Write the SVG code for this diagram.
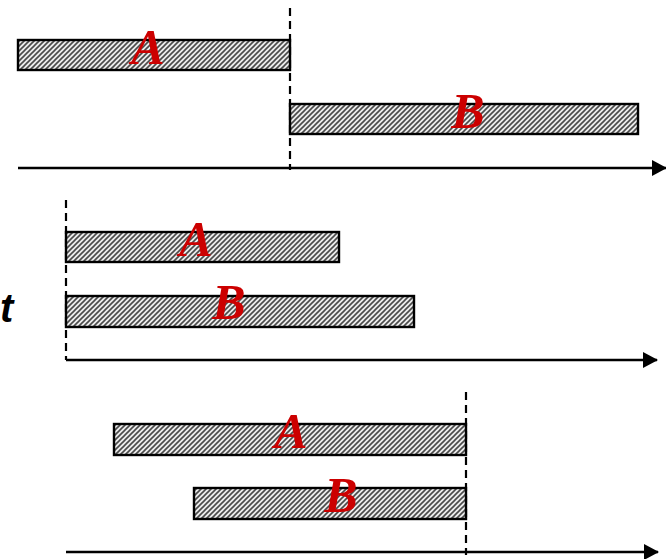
<svg xmlns="http://www.w3.org/2000/svg" width="666" height="559" viewBox="0 0 666 559">
<defs>
<pattern id="hatch" patternUnits="userSpaceOnUse" width="5" height="5">
<rect width="5" height="5" fill="#ececec"/>
<path d="M-1,6 L6,-1 M-1,1 L1,-1 M4,6 L6,4" stroke="#4a4a4a" stroke-width="1.6"/>
</pattern>
<marker id="arrow" markerWidth="15" markerHeight="16" refX="14" refY="8" orient="auto" markerUnits="userSpaceOnUse">
<path d="M0,0 L15,8 L0,16 Z" fill="#000"/>
</marker>
</defs>
<style>
.bar{fill:url(#hatch);stroke:#000;stroke-width:2.4}
.lbl{font-family:"Liberation Serif","Times New Roman",serif;font-weight:bold;font-style:italic;font-size:50px;fill:#cc0000;text-anchor:middle}
.axis{stroke:#000;stroke-width:2.5;fill:none}
.dash{stroke:#000;stroke-width:2.2;stroke-dasharray:8 5;fill:none}
</style>
<rect width="666" height="559" fill="#fff"/>
<g id="connectors">
<line class="axis" x1="18" y1="168" x2="666" y2="168" marker-end="url(#arrow)"/>
<line class="axis" x1="66" y1="360" x2="657" y2="360" marker-end="url(#arrow)"/>
<line class="axis" x1="66" y1="552" x2="658" y2="552" marker-end="url(#arrow)"/>
<line class="dash" x1="290" y1="8" x2="290" y2="170"/>
<line class="dash" x1="66" y1="200" x2="66" y2="360"/>
<line class="dash" x1="466" y1="392" x2="466" y2="555"/>
</g>
<g id="top-A"><rect class="bar" x="18" y="40" width="272" height="30"/><text class="lbl" x="148" y="64">A</text></g>
<g id="top-B"><rect class="bar" x="290" y="104" width="348" height="30"/><text class="lbl" x="468" y="128">B</text></g>
<g id="mid-A"><rect class="bar" x="66" y="232" width="273" height="30"/><text class="lbl" x="196" y="256">A</text></g>
<g id="mid-B"><rect class="bar" x="66" y="296" width="348" height="31"/><text class="lbl" x="229" y="319">B</text></g>
<g id="bot-A"><rect class="bar" x="114" y="424" width="352" height="31"/><text class="lbl" x="291" y="448">A</text></g>
<g id="bot-B"><rect class="bar" x="194" y="488" width="272" height="31"/><text class="lbl" x="341" y="512">B</text></g>
<text x="0" y="322" font-family="Liberation Sans, Arial, sans-serif" font-weight="bold" font-style="italic" font-size="40">t</text>
</svg>
